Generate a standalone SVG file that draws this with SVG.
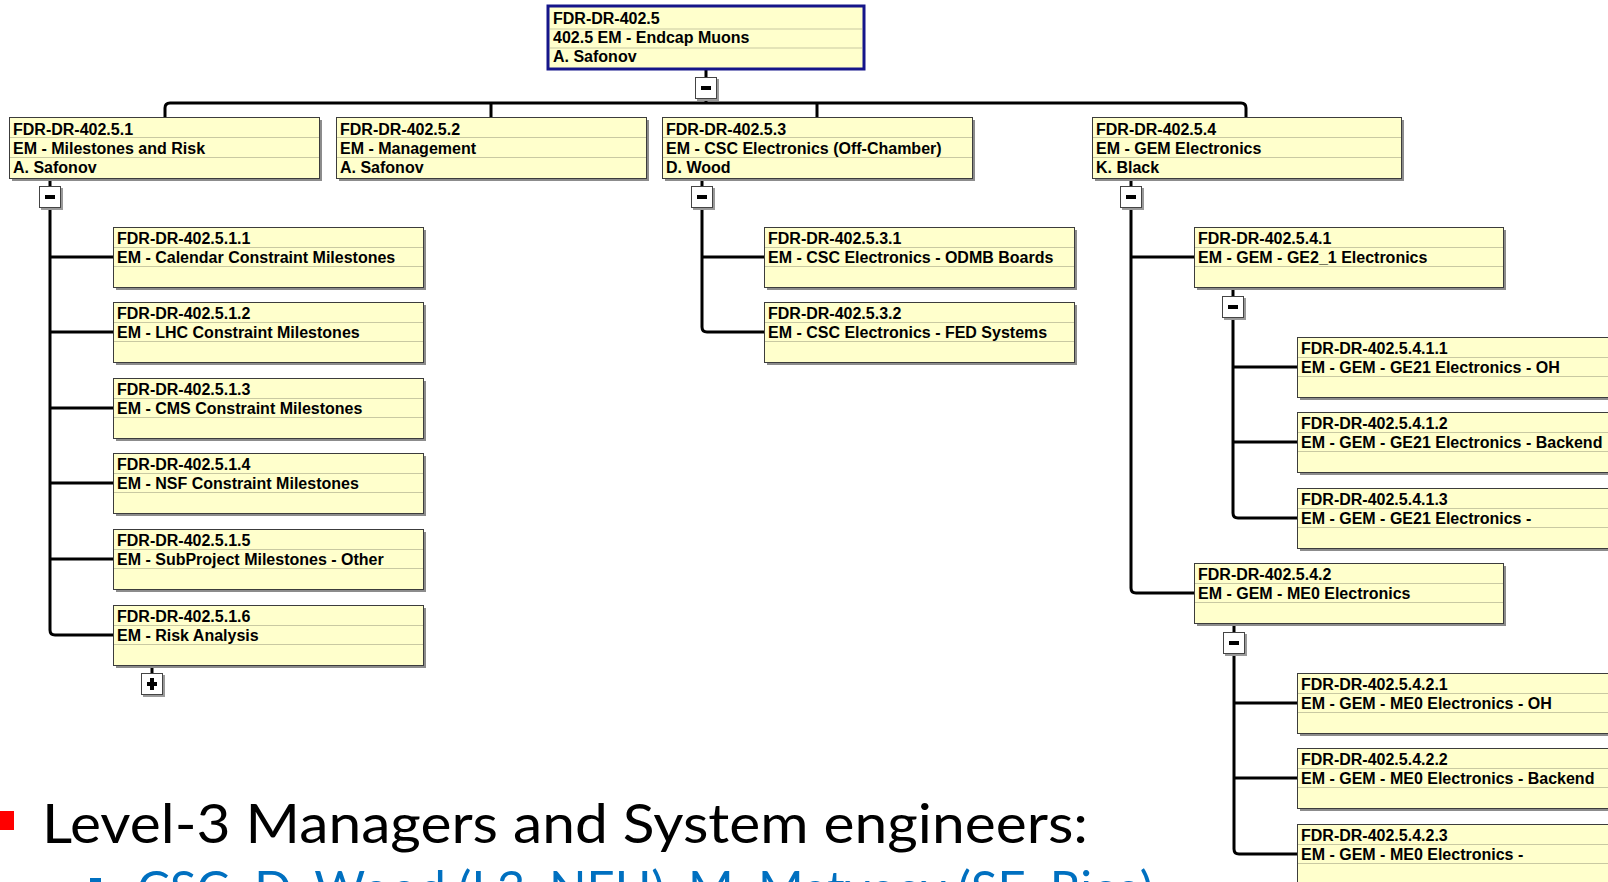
<svg xmlns="http://www.w3.org/2000/svg" width="1608" height="882" viewBox="0 0 1608 882">
<style>
.bg{fill:#ffffff}
.sh{fill:#8c8c8c}
.bx{fill:#ffffcc;stroke:#3c3c3c;stroke-width:1}
.root{fill:#ffffcc;stroke:#15158a;stroke-width:3}
.sep{stroke:#c9c9a2;stroke-width:1}
.t{font-family:"Liberation Sans",Arial,sans-serif;font-weight:bold;font-size:16px;fill:#000}
.cn{fill:none;stroke:#000;stroke-width:3;stroke-linejoin:round}
.cb{fill:#ffffff;stroke:#444;stroke-width:1}
.cbs{fill:#9a9a9a}
.mk{fill:#000}
.big{font-family:Lato,"Open Sans",sans-serif;font-size:55px;fill:#000}
.sub{font-family:Lato,"Open Sans",sans-serif;font-size:48px;fill:#0070c0}
</style>
<defs>
<g id="minus">
<rect class="cbs" x="2" y="2" width="22" height="22"/>
<rect class="cb" x="0.5" y="0.5" width="21" height="21"/>
<rect class="mk" x="6" y="9" width="10" height="4"/>
</g>
<g id="plus">
<rect class="cbs" x="2" y="2" width="22" height="22"/>
<rect class="cb" x="0.5" y="0.5" width="21" height="21"/>
<rect class="mk" x="6" y="9" width="10" height="4"/>
<rect class="mk" x="9" y="5" width="4" height="12"/>
</g>
</defs>
<rect class="bg" x="0" y="0" width="1608" height="882"/>

<g id="connectors">
<path class="cn" d="M706 70 V103"/>
<path class="cn" d="M165 117 V108 Q165 103 170 103 H1241 Q1246 103 1246 108 V117"/>
<path class="cn" d="M491 103 V117 M817 103 V117"/>
<path class="cn" d="M50 178 V630 Q50 635 55 635 H113"/>
<path class="cn" d="M50 257 H113 M50 332 H113 M50 408 H113 M50 483 H113 M50 559 H113"/>
<path class="cn" d="M152 665 V673"/>
<path class="cn" d="M702 178 V327 Q702 332 707 332 H764"/>
<path class="cn" d="M702 257 H764"/>
<path class="cn" d="M1131 178 V588 Q1131 593 1136 593 H1194"/>
<path class="cn" d="M1131 257 H1194"/>
<path class="cn" d="M1233 287 V513 Q1233 518 1238 518 H1297"/>
<path class="cn" d="M1233 367 H1297 M1233 442 H1297"/>
<path class="cn" d="M1234 623 V849 Q1234 854 1239 854 H1297"/>
<path class="cn" d="M1234 703 H1297 M1234 778 H1297"/>
<use href="#minus" x="695" y="77"/>
<use href="#minus" x="39" y="186"/>
<use href="#minus" x="691" y="186"/>
<use href="#minus" x="1120" y="186"/>
<use href="#minus" x="1222" y="296"/>
<use href="#minus" x="1223" y="632"/>
<use href="#plus" x="141" y="673"/>
</g>

<g id="n402_5">
<rect class="root" x="548" y="6" width="316" height="63"/>
<line class="sep" x1="550" y1="29" x2="862" y2="29"/>
<line class="sep" x1="550" y1="48" x2="862" y2="48"/>
<text class="t" x="553" y="24">FDR-DR-402.5</text>
<text class="t" x="553" y="43">402.5 EM - Endcap Muons</text>
<text class="t" x="553" y="62">A. Safonov</text>
</g>

<g id="n402_5_1">
<rect class="sh" x="12" y="120" width="310" height="61"/>
<rect class="bx" x="9.5" y="117.5" width="310" height="61"/>
<line class="sep" x1="10" y1="137.5" x2="319" y2="137.5"/>
<line class="sep" x1="10" y1="157.5" x2="319" y2="157.5"/>
<text class="t" x="13" y="135">FDR-DR-402.5.1</text>
<text class="t" x="13" y="154">EM - Milestones and Risk</text>
<text class="t" x="13" y="173">A. Safonov</text>
</g>

<g id="n402_5_2">
<rect class="sh" x="339" y="120" width="310" height="61"/>
<rect class="bx" x="336.5" y="117.5" width="310" height="61"/>
<line class="sep" x1="337" y1="137.5" x2="646" y2="137.5"/>
<line class="sep" x1="337" y1="157.5" x2="646" y2="157.5"/>
<text class="t" x="340" y="135">FDR-DR-402.5.2</text>
<text class="t" x="340" y="154">EM - Management</text>
<text class="t" x="340" y="173">A. Safonov</text>
</g>

<g id="n402_5_3">
<rect class="sh" x="665" y="120" width="310" height="61"/>
<rect class="bx" x="662.5" y="117.5" width="310" height="61"/>
<line class="sep" x1="663" y1="137.5" x2="972" y2="137.5"/>
<line class="sep" x1="663" y1="157.5" x2="972" y2="157.5"/>
<text class="t" x="666" y="135">FDR-DR-402.5.3</text>
<text class="t" x="666" y="154">EM - CSC Electronics (Off-Chamber)</text>
<text class="t" x="666" y="173">D. Wood</text>
</g>

<g id="n402_5_4">
<rect class="sh" x="1095" y="120" width="309" height="61"/>
<rect class="bx" x="1092.5" y="117.5" width="309" height="61"/>
<line class="sep" x1="1093" y1="137.5" x2="1401" y2="137.5"/>
<line class="sep" x1="1093" y1="157.5" x2="1401" y2="157.5"/>
<text class="t" x="1096" y="135">FDR-DR-402.5.4</text>
<text class="t" x="1096" y="154">EM - GEM Electronics</text>
<text class="t" x="1096" y="173">K. Black</text>
</g>

<g id="n402_5_1_1">
<rect class="sh" x="116" y="230" width="310" height="60"/>
<rect class="bx" x="113.5" y="227.5" width="310" height="60"/>
<line class="sep" x1="114" y1="247.5" x2="423" y2="247.5"/>
<line class="sep" x1="114" y1="266.5" x2="423" y2="266.5"/>
<text class="t" x="117" y="244">FDR-DR-402.5.1.1</text>
<text class="t" x="117" y="263">EM - Calendar Constraint Milestones</text>
</g>

<g id="n402_5_1_2">
<rect class="sh" x="116" y="305" width="310" height="60"/>
<rect class="bx" x="113.5" y="302.5" width="310" height="60"/>
<line class="sep" x1="114" y1="322.5" x2="423" y2="322.5"/>
<line class="sep" x1="114" y1="341.5" x2="423" y2="341.5"/>
<text class="t" x="117" y="319">FDR-DR-402.5.1.2</text>
<text class="t" x="117" y="338">EM - LHC Constraint Milestones</text>
</g>

<g id="n402_5_1_3">
<rect class="sh" x="116" y="381" width="310" height="60"/>
<rect class="bx" x="113.5" y="378.5" width="310" height="60"/>
<line class="sep" x1="114" y1="398.5" x2="423" y2="398.5"/>
<line class="sep" x1="114" y1="417.5" x2="423" y2="417.5"/>
<text class="t" x="117" y="395">FDR-DR-402.5.1.3</text>
<text class="t" x="117" y="414">EM - CMS Constraint Milestones</text>
</g>

<g id="n402_5_1_4">
<rect class="sh" x="116" y="456" width="310" height="60"/>
<rect class="bx" x="113.5" y="453.5" width="310" height="60"/>
<line class="sep" x1="114" y1="473.5" x2="423" y2="473.5"/>
<line class="sep" x1="114" y1="492.5" x2="423" y2="492.5"/>
<text class="t" x="117" y="470">FDR-DR-402.5.1.4</text>
<text class="t" x="117" y="489">EM - NSF Constraint Milestones</text>
</g>

<g id="n402_5_1_5">
<rect class="sh" x="116" y="532" width="310" height="60"/>
<rect class="bx" x="113.5" y="529.5" width="310" height="60"/>
<line class="sep" x1="114" y1="549.5" x2="423" y2="549.5"/>
<line class="sep" x1="114" y1="568.5" x2="423" y2="568.5"/>
<text class="t" x="117" y="546">FDR-DR-402.5.1.5</text>
<text class="t" x="117" y="565">EM - SubProject Milestones - Other</text>
</g>

<g id="n402_5_1_6">
<rect class="sh" x="116" y="608" width="310" height="60"/>
<rect class="bx" x="113.5" y="605.5" width="310" height="60"/>
<line class="sep" x1="114" y1="625.5" x2="423" y2="625.5"/>
<line class="sep" x1="114" y1="644.5" x2="423" y2="644.5"/>
<text class="t" x="117" y="622">FDR-DR-402.5.1.6</text>
<text class="t" x="117" y="641">EM - Risk Analysis</text>
</g>

<g id="n402_5_3_1">
<rect class="sh" x="767" y="230" width="310" height="60"/>
<rect class="bx" x="764.5" y="227.5" width="310" height="60"/>
<line class="sep" x1="765" y1="247.5" x2="1074" y2="247.5"/>
<line class="sep" x1="765" y1="266.5" x2="1074" y2="266.5"/>
<text class="t" x="768" y="244">FDR-DR-402.5.3.1</text>
<text class="t" x="768" y="263">EM - CSC Electronics - ODMB Boards</text>
</g>

<g id="n402_5_3_2">
<rect class="sh" x="767" y="305" width="310" height="60"/>
<rect class="bx" x="764.5" y="302.5" width="310" height="60"/>
<line class="sep" x1="765" y1="322.5" x2="1074" y2="322.5"/>
<line class="sep" x1="765" y1="341.5" x2="1074" y2="341.5"/>
<text class="t" x="768" y="319">FDR-DR-402.5.3.2</text>
<text class="t" x="768" y="338">EM - CSC Electronics - FED Systems</text>
</g>

<g id="n402_5_4_1">
<rect class="sh" x="1197" y="230" width="309" height="60"/>
<rect class="bx" x="1194.5" y="227.5" width="309" height="60"/>
<line class="sep" x1="1195" y1="247.5" x2="1503" y2="247.5"/>
<line class="sep" x1="1195" y1="266.5" x2="1503" y2="266.5"/>
<text class="t" x="1198" y="244">FDR-DR-402.5.4.1</text>
<text class="t" x="1198" y="263">EM - GEM - GE2_1 Electronics</text>
</g>

<g id="n402_5_4_1_1">
<rect class="sh" x="1300" y="340" width="320" height="60"/>
<rect class="bx" x="1297.5" y="337.5" width="320" height="60"/>
<line class="sep" x1="1298" y1="357.5" x2="1617" y2="357.5"/>
<line class="sep" x1="1298" y1="376.5" x2="1617" y2="376.5"/>
<text class="t" x="1301" y="354">FDR-DR-402.5.4.1.1</text>
<text class="t" x="1301" y="373">EM - GEM - GE21 Electronics - OH</text>
</g>

<g id="n402_5_4_1_2">
<rect class="sh" x="1300" y="415" width="320" height="60"/>
<rect class="bx" x="1297.5" y="412.5" width="320" height="60"/>
<line class="sep" x1="1298" y1="432.5" x2="1617" y2="432.5"/>
<line class="sep" x1="1298" y1="451.5" x2="1617" y2="451.5"/>
<text class="t" x="1301" y="429">FDR-DR-402.5.4.1.2</text>
<text class="t" x="1301" y="448">EM - GEM - GE21 Electronics - Backend</text>
</g>

<g id="n402_5_4_1_3">
<rect class="sh" x="1300" y="491" width="320" height="60"/>
<rect class="bx" x="1297.5" y="488.5" width="320" height="60"/>
<line class="sep" x1="1298" y1="508.5" x2="1617" y2="508.5"/>
<line class="sep" x1="1298" y1="527.5" x2="1617" y2="527.5"/>
<text class="t" x="1301" y="505">FDR-DR-402.5.4.1.3</text>
<text class="t" x="1301" y="524">EM - GEM - GE21 Electronics -</text>
</g>

<g id="n402_5_4_2">
<rect class="sh" x="1197" y="566" width="309" height="60"/>
<rect class="bx" x="1194.5" y="563.5" width="309" height="60"/>
<line class="sep" x1="1195" y1="583.5" x2="1503" y2="583.5"/>
<line class="sep" x1="1195" y1="602.5" x2="1503" y2="602.5"/>
<text class="t" x="1198" y="580">FDR-DR-402.5.4.2</text>
<text class="t" x="1198" y="599">EM - GEM - ME0 Electronics</text>
</g>

<g id="n402_5_4_2_1">
<rect class="sh" x="1300" y="676" width="320" height="60"/>
<rect class="bx" x="1297.5" y="673.5" width="320" height="60"/>
<line class="sep" x1="1298" y1="693.5" x2="1617" y2="693.5"/>
<line class="sep" x1="1298" y1="712.5" x2="1617" y2="712.5"/>
<text class="t" x="1301" y="690">FDR-DR-402.5.4.2.1</text>
<text class="t" x="1301" y="709">EM - GEM - ME0 Electronics - OH</text>
</g>

<g id="n402_5_4_2_2">
<rect class="sh" x="1300" y="751" width="320" height="60"/>
<rect class="bx" x="1297.5" y="748.5" width="320" height="60"/>
<line class="sep" x1="1298" y1="768.5" x2="1617" y2="768.5"/>
<line class="sep" x1="1298" y1="787.5" x2="1617" y2="787.5"/>
<text class="t" x="1301" y="765">FDR-DR-402.5.4.2.2</text>
<text class="t" x="1301" y="784">EM - GEM - ME0 Electronics - Backend</text>
</g>

<g id="n402_5_4_2_3">
<rect class="sh" x="1300" y="827" width="320" height="60"/>
<rect class="bx" x="1297.5" y="824.5" width="320" height="60"/>
<line class="sep" x1="1298" y1="844.5" x2="1617" y2="844.5"/>
<line class="sep" x1="1298" y1="863.5" x2="1617" y2="863.5"/>
<text class="t" x="1301" y="841">FDR-DR-402.5.4.2.3</text>
<text class="t" x="1301" y="860">EM - GEM - ME0 Electronics -</text>
</g>

<g id="caption">
<rect x="-5" y="811" width="19" height="19" fill="#ff0000"/>
<text class="big" x="42" y="843" textLength="1046" lengthAdjust="spacingAndGlyphs">Level-3 Managers and System engineers:</text>
<rect x="90" y="878" width="11" height="11" fill="#0070c0"/>
<text class="sub" x="137" y="906" textLength="1016" lengthAdjust="spacingAndGlyphs">CSC:  D. Wood (L3, NEU), M. Matveev (SE, Rice)</text>
</g>
</svg>
